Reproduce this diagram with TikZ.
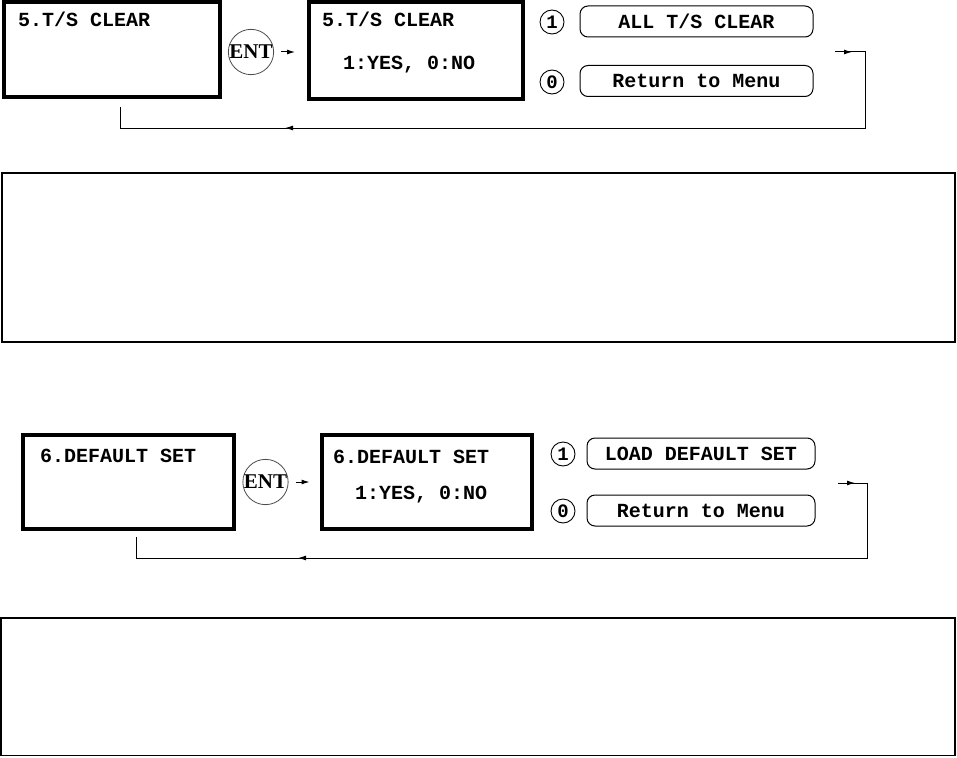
\documentclass[tikz,border=0pt]{standalone}
\usepackage{fontspec}
\usepackage{tikz}
\usetikzlibrary{arrows.meta, positioning, decorations.markings}
\newfontfamily\lcdfont{Liberation Mono}
\newfontfamily\keyfont{Liberation Serif}
\newcommand{\lcdsize}{\fontsize{20}{22}\selectfont}

\begin{document}
\begin{tikzpicture}[x=1pt, y=-1pt,
    screen/.style={rectangle, draw, line width=4pt, inner sep=0pt},
    lcd/.style={font=\lcdfont\bfseries\lcdsize, inner sep=0pt, anchor=base west},
    entkey/.style={circle, draw=black!70, line width=0.8pt, minimum size=40pt, inner sep=0pt, font=\keyfont\bfseries\fontsize{21}{22}\selectfont},
    numkey/.style={circle, draw, line width=0.9pt, minimum size=24pt, inner sep=0pt, font=\lcdfont\bfseries\fontsize{19}{20}\selectfont},
    option/.style={rectangle, rounded corners=8pt, draw, line width=1pt, minimum height=31pt, inner sep=0pt, font=\lcdfont\bfseries\lcdsize},
    notebox/.style={draw, line width=1.5pt},
    fwd/.style={-{Latex[length=8pt,width=5pt]}, line width=1pt},
    loopback/.style 2 args={line width=1pt, postaction={decorate}, decoration={markings,
        mark=at position #1 with {\arrow{Latex[length=8pt,width=5pt]}},
        mark=at position #2 with {\arrow{Latex[length=8pt,width=5pt]}}}}]
    \useasboundingbox (0,0) rectangle (957,757);

    % 5. T/S clear
    \node (scrA) [screen, minimum width=216pt, minimum height=95pt] at (112,49.5) {};
    \node (scrAtxt) [lcd] at (18,27) {5.T/S CLEAR};
    \node (entA) [entkey] at (251,52) {ENT};
    \node (scrB) [screen, minimum width=214pt, minimum height=97pt] at (416,50.5) {};
    \node (scrBtxt) [lcd] at (322,27) {5.T/S CLEAR};
    \node (scrBask) [lcd] at (343,70) {1:YES, 0:NO};
    \node (key1A) [numkey] at (552,22) {1};
    \node (key0A) [numkey] at (552,82) {0};
    \node (optA1) [option, minimum width=233pt] at (696.5,21.5) {ALL T/S CLEAR};
    \node (optA0) [option, minimum width=233pt] at (696.5,81) {Return to Menu};
    \coordinate (retA) at (835,52);
    \coordinate (turnA) at (865,128);
    \coordinate (backA) at (120,107);

    \draw [fwd, shorten <=7pt, shorten >=12pt] (entA.east) -- (entA.east -| scrB.west);
    \draw [loopback={17pt}{686pt}] (retA) -| (turnA) -| (backA);

    \node (noteA) [notebox, minimum width=953pt, minimum height=169pt] at (478.5,257.5) {};

    % 6. default set
    \node (scrC) [screen, minimum width=210.5pt, minimum height=94pt] at (128.25,482) {};
    \node (scrCtxt) [lcd] at (40,462) {6.DEFAULT SET};
    \node (entB) [entkey] at (265.5,482) {ENT};
    \node (scrD) [screen, minimum width=210pt, minimum height=94pt] at (426.5,482) {};
    \node (scrDtxt) [lcd] at (333,463) {6.DEFAULT SET};
    \node (scrDask) [lcd] at (355,499) {1:YES, 0:NO};
    \node (key1B) [numkey] at (563,454) {1};
    \node (key0B) [numkey] at (563,511) {0};
    \node (optB1) [option, minimum width=228pt] at (701,453.5) {LOAD DEFAULT SET};
    \node (optB0) [option, minimum width=228pt] at (701,510.5) {Return to Menu};
    \coordinate (retB) at (838,483);
    \coordinate (turnB) at (867,558);
    \coordinate (backB) at (136,537);

    \draw [fwd, shorten <=7pt, shorten >=10pt] (entB.east) -- (entB.east -| scrD.west);
    \draw [loopback={17pt}{673pt}] (retB) -| (turnB) -| (backB);

    \node (noteB) [notebox, minimum width=954pt, minimum height=137.5pt] at (478,686.75) {};
\end{tikzpicture}
\end{document}
